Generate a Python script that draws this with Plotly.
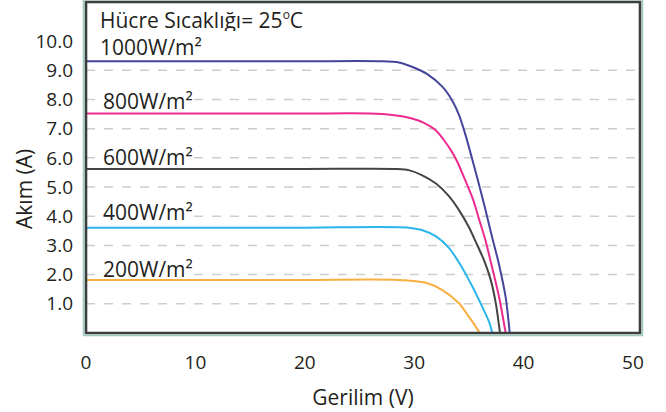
import plotly.graph_objects as go

# ---------------- data ----------------
v_1000 = [0, 10, 20, 26.8, 28.6, 29.8, 31.2, 32.6, 33.5, 34.1, 34.7, 35.48, 36.39, 37.12, 37.76, 38.37, 38.74]
i_1000 = [9.31, 9.31, 9.31, 9.31, 9.27, 9.12, 8.87, 8.43, 7.95, 7.47, 6.78, 5.72, 4.42, 3.30, 2.35, 1.22, 0.0]

v_800 = [0, 10, 20, 25.9, 28.0, 29.8, 30.9, 32.0, 32.7, 33.4, 33.9, 34.7, 35.4, 35.9, 36.5, 37.0, 37.76, 38.37]
i_800 = [7.52, 7.52, 7.52, 7.52, 7.47, 7.35, 7.20, 6.94, 6.62, 6.24, 5.90, 5.21, 4.56, 3.94, 3.20, 2.45, 1.24, 0.0]

v_600 = [0, 10, 20, 28.5, 29.5, 30.7, 32.0, 33.2, 34.1, 35.0, 35.6, 36.3, 37.0, 37.46, 37.85]
i_600 = [5.62, 5.62, 5.62, 5.62, 5.58, 5.41, 5.12, 4.68, 4.21, 3.63, 3.15, 2.57, 1.82, 1.03, 0.0]

v_400 = [0, 10, 20, 29.5, 30.7, 32.0, 33.2, 34.4, 35.3, 36.2, 36.85, 37.15]
i_400 = [3.61, 3.61, 3.61, 3.61, 3.53, 3.31, 2.91, 2.23, 1.61, 0.92, 0.38, 0.0]

v_200 = [0, 10, 20, 28.6, 31.07, 32.58, 34.1, 35.0, 35.63, 36.0]
i_200 = [1.82, 1.82, 1.82, 1.82, 1.72, 1.47, 1.02, 0.56, 0.22, 0.0]

series_names = ["1000W/m²", "800W/m²", "600W/m²", "400W/m²", "200W/m²"]
series_v = [v_1000, v_800, v_600, v_400, v_200]
series_i = [i_1000, i_800, i_600, i_400, i_200]
series_colors = ["#45459b", "#ec2a8f", "#444444", "#2bb5e9", "#f9ae42"]

x_ticks = [0, 10, 20, 30, 40, 50]
y_ticks = [1, 2, 3, 4, 5, 6, 7, 8, 9, 10]
y_tick_text = ["1.0", "2.0", "3.0", "4.0", "5.0", "6.0", "7.0", "8.0", "9.0", "10.0"]
grid_vals = [1, 2, 3, 4, 5, 6, 7, 8, 9]

title_text = "Hücre Sıcaklığı= 25<sup><span style='font-size:12px'>o</span></sup>C"
label_y = [9.81, 7.94, 6.03, 4.13, 2.19]      # y position of each irradiance label
label_grid = [None, 8, 6, 4, 2]                # gridline crossing each label
x_title = "Gerilim (V)"
y_title = "Akım (A)"

# ---------------- figure ----------------
FONT = "Open Sans"
TXT = "#231f20"

fig = go.Figure()
for name, v, i, c in zip(series_names, series_v, series_i, series_colors):
    fig.add_trace(go.Scatter(x=v, y=i, mode="lines", name=name,
                             line=dict(color=c, width=2, shape="spline", smoothing=0.8),
                             hoverinfo="skip", showlegend=False))

shapes = []
for g in grid_vals:
    shapes.append(dict(type="line", xref="x domain", x0=0, x1=1, yref="y", y0=g, y1=g,
                       line=dict(color="#cdcdcd", width=1.5, dash="9px,9px"), layer="below"))

annotations = [dict(text=title_text, xref="x", yref="y", x=1.1, y=10.73,
                    xanchor="left", yanchor="middle", showarrow=False, height=22,
                    font=dict(family=FONT, size=21, color=TXT))]
for name, ly, lg in zip(series_names, label_y, label_grid):
    lx = 1.1 if lg is None else 1.35
    annotations.append(dict(text=name, xref="x", yref="y", x=lx, y=ly,
                            xanchor="left", yanchor="middle", showarrow=False, height=22,
                            font=dict(family=FONT, size=21, color=TXT)))
    if lg is not None:
        shapes.append(dict(type="rect", xref="x", yref="y", x0=lx - 0.45, x1=lx + 8.5,
                           y0=lg - 0.1, y1=lg + 0.1, fillcolor="white",
                           line=dict(width=0), layer="below"))

# y-axis title (sits a little below the axis middle in the reference)
annotations.append(dict(text=y_title, xref="paper", yref="paper", x=-0.112, y=0.435,
                        xanchor="center", yanchor="middle", textangle=-90, showarrow=False,
                        font=dict(family=FONT, size=21, color=TXT)))

# frame: teal outer rim and dark border
px_w, px_h = 554.5, 331.0
shapes.append(dict(type="rect", xref="x domain", yref="y domain",
                   x0=-2.5 / px_w, x1=1 + 2.5 / px_w, y0=-2.5 / px_h, y1=1 + 2.5 / px_h,
                   line=dict(color="#9cc9c2", width=1.5), layer="above"))
shapes.append(dict(type="rect", xref="x domain", yref="y domain", x0=0, x1=1, y0=0, y1=1,
                   line=dict(color="#3a3e3c", width=2.6), layer="above"))

fig.update_layout(
    width=666, height=412,
    margin=dict(l=86, r=25.5, t=2, b=79, pad=0),
    paper_bgcolor="white", plot_bgcolor="white",
    font=dict(family=FONT, size=19, color=TXT),
    shapes=shapes, annotations=annotations,
    xaxis=dict(range=[0, 50.65], tickvals=x_ticks, showgrid=False, zeroline=False,
               showline=False, ticks="", ticklabelstandoff=16, automargin=False,
               tickfont=dict(family=FONT, size=19, color=TXT),
               title=dict(text=x_title, font=dict(family=FONT, size=21, color=TXT), standoff=16)),
    yaxis=dict(range=[0, 11.34], tickvals=y_ticks, ticktext=y_tick_text, showgrid=False,
               zeroline=False, showline=False, ticks="", ticklabelstandoff=12, automargin=False,
               tickfont=dict(family=FONT, size=19, color=TXT)),
)

fig.write_html("out.html", config={"displayModeBar": False},
               post_script="document.body.style.margin='0';document.body.style.padding='0';")
